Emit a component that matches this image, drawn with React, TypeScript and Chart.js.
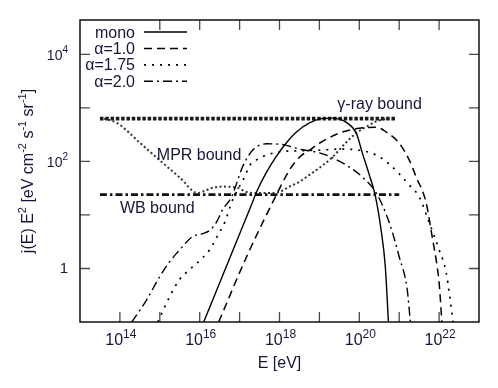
import React, { useEffect, useRef } from "react";
import { Chart, registerables } from "chart.js";

Chart.register(...registerables);

// ---- data (log10 values) ----
const monoLogE = [16.1, 16.8, 17.275, 17.45, 17.675, 17.925, 18.175, 18.425, 18.75, 19.05, 19.325, 19.5, 19.675, 19.925, 20.075, 20.25, 20.4, 20.55, 20.65, 20.73];
const monoLogJ = [-1.0, 0.28, 1.15, 1.47, 1.8, 2.1, 2.35, 2.55, 2.72, 2.8, 2.81, 2.79, 2.73, 2.53, 2.16, 1.75, 1.36, 0.7, 0.05, -1.0];

const a10LogE = [16.475, 17.2, 17.925, 18.25, 18.5, 18.75, 19.0, 19.5, 20.0, 20.425, 20.675, 21.0, 21.25, 21.425, 21.675, 21.825, 21.95, 22.0, 22.07];
const a10LogJ = [-1.0, 0.26, 1.38, 1.84, 2.08, 2.21, 2.34, 2.53, 2.62, 2.64, 2.55, 2.34, 2.03, 1.71, 1.23, 0.6, 0.04, -0.26, -1.0];

const a175LogE = [14.95, 15.25, 15.5, 15.75, 16.0, 16.25, 16.425, 16.625, 16.825, 17.125, 17.25, 17.425, 17.675, 18.0, 18.5, 19.0, 19.5, 20.0, 20.425, 20.75, 21.0, 21.25, 21.5, 21.75, 22.0, 22.175, 22.35];
const a175LogJ = [-1.0, -0.52, -0.2, -0.02, 0.15, 0.35, 0.58, 0.86, 1.28, 1.71, 1.92, 2.03, 2.12, 2.18, 2.2, 2.21, 2.23, 2.21, 2.12, 1.95, 1.77, 1.56, 1.34, 0.86, 0.35, -0.07, -1.0];

const a20LogE = [14.3, 14.675, 15.0, 15.25, 15.5, 15.825, 16.075, 16.25, 16.425, 16.575, 16.8, 17.075, 17.325, 17.675, 18.125, 18.5, 19.0, 19.325, 19.675, 20.075, 20.425, 20.75, 21.0, 21.2, 21.28];
const a20LogJ = [-1.0, -0.58, -0.15, 0.13, 0.35, 0.6, 0.65, 0.71, 0.87, 1.1, 1.34, 1.9, 2.21, 2.33, 2.31, 2.23, 2.16, 2.07, 1.93, 1.71, 1.41, 0.86, 0.22, -0.39, -1.0];

const mprLogE = [13.6, 13.925, 14.5, 15.0, 15.5, 15.95, 16.125, 16.325, 16.575, 16.925, 17.175, 17.425, 17.75, 18.0, 18.25, 18.5, 18.75, 19.0, 19.325, 19.675, 19.925, 20.25, 20.425, 20.7];
const mprLogJ = [2.8, 2.72, 2.35, 2.02, 1.7, 1.41, 1.45, 1.51, 1.53, 1.51, 1.43, 1.41, 1.41, 1.43, 1.53, 1.62, 1.75, 1.88, 2.08, 2.36, 2.53, 2.68, 2.75, 2.8];

const gammaLogE = [13.5, 20.925];
const gammaLogJ = [2.8, 2.8];

const wbLogE = [13.5, 21.0];
const wbLogJ = [1.38, 1.38];

const legendLabels = ["mono", "\u03b1=1.0", "\u03b1=1.75", "\u03b1=2.0"];
const xTickExps = [14, 15, 16, 17, 18, 19, 20, 21, 22];
const xLabelExps = [14, 16, 18, 20, 22];
const yTickExps = [0, 1, 2, 3, 4];
const yLabelExps = [0, 2, 4];

const X_MIN = 1e13;
const X_MAX = 1e23;
const Y_MIN = 0.1;
const Y_MAX = 4.4e4;

const FONT = "'Liberation Sans', Arial, Helvetica, sans-serif";
const TXT = "#16163c";

const toPts = (le: number[], lj: number[]) => le.map((e, i) => ({ x: Math.pow(10, e), y: Math.pow(10, lj[i]) }));

type Part = [string, boolean];

function drawRich(ctx: CanvasRenderingContext2D, parts: Part[], x: number, y: number, align: "left" | "center" | "right", base: number, sup: number, rise: number) {
  const widths = parts.map(([t, s]) => {
    ctx.font = `${s ? sup : base}px ${FONT}`;
    return ctx.measureText(t).width;
  });
  const total = widths.reduce((a, b) => a + b, 0);
  let cx = align === "left" ? x : align === "center" ? x - total / 2 : x - total;
  ctx.textAlign = "left";
  ctx.textBaseline = "alphabetic";
  parts.forEach(([t, s], i) => {
    ctx.font = `${s ? sup : base}px ${FONT}`;
    ctx.fillText(t, cx, s ? y - rise : y);
    cx += widths[i];
  });
}

const decorPlugin = {
  id: "decor",
  afterDraw(chart: any) {
    const ctx: CanvasRenderingContext2D = chart.ctx;
    const { left, right, top, bottom } = chart.chartArea;
    const xs = chart.scales.x;
    const ys = chart.scales.y;
    ctx.save();
    ctx.setLineDash([]);
    // ticks
    ctx.strokeStyle = "#4a4a4a";
    ctx.lineWidth = 1.3;
    ctx.beginPath();
    for (const e of xTickExps) {
      const px = xs.getPixelForValue(Math.pow(10, e));
      ctx.moveTo(px, bottom);
      ctx.lineTo(px, bottom - 10);
      if (e !== 14) {
        ctx.moveTo(px, top);
        ctx.lineTo(px, top + 10);
      }
    }
    for (const e of yTickExps) {
      const py = ys.getPixelForValue(Math.pow(10, e));
      ctx.moveTo(left, py);
      ctx.lineTo(left + 10, py);
      ctx.moveTo(right, py);
      ctx.lineTo(right - 10, py);
    }
    ctx.stroke();
    // border
    ctx.strokeStyle = "#000";
    ctx.lineWidth = 1.4;
    ctx.strokeRect(left, top, right - left, bottom - top);

    ctx.fillStyle = TXT;
    // x labels
    for (const e of xLabelExps) {
      const px = xs.getPixelForValue(Math.pow(10, e));
      drawRich(ctx, [["10", false], [String(e), true]], px + 1, bottom + 23, "center", 16, 12, 7);
    }
    // y labels
    for (const e of yLabelExps) {
      const py = ys.getPixelForValue(Math.pow(10, e));
      if (e === 0) drawRich(ctx, [["1", false]], left - 12, py + 5, "right", 15, 10, 6);
      else drawRich(ctx, [["10", false], [String(e), true]], left - 12, py + 6, "right", 14, 10, 7);
    }
    // x title
    drawRich(ctx, [["E [eV]", false]], (left + right) / 2, bottom + 46, "center", 16, 12, 6);
    // y title
    ctx.save();
    ctx.translate(33, (top + bottom) / 2);
    ctx.rotate(-Math.PI / 2);
    drawRich(
      ctx,
      [["j(E) E", false], ["2", true], [" [eV cm", false], ["-2", true], [" s", false], ["-1", true], [" sr", false], ["-1", true], ["]", false]],
      0,
      0,
      "center",
      16,
      11,
      7
    );
    ctx.restore();

    // annotations anchored in data coordinates
    const ann: [string, number, number][] = [
      ["\u03b3-ray bound", 19.45, 2.98],
      ["MPR bound", 14.925, 2.02],
      ["WB bound", 14.0, 1.04],
    ];
    for (const [t, le, lj] of ann) {
      const px = xs.getPixelForValue(Math.pow(10, le));
      const py = ys.getPixelForValue(Math.pow(10, lj));
      drawRich(ctx, [[t, false]], px, py, "left", 16, 12, 6);
    }

    // legend
    const ds = chart.data.datasets;
    for (let i = 0; i < legendLabels.length; i++) {
      const y = top + 12 + i * 16.4;
      ctx.fillStyle = TXT;
      drawRich(ctx, [[legendLabels[i], false]], left + 55, y + 5.5, "right", 16, 12, 6);
      ctx.strokeStyle = "#000";
      ctx.lineWidth = ds[i].borderWidth;
      ctx.setLineDash(ds[i].borderDash || []);
      ctx.beginPath();
      ctx.moveTo(left + 64, y);
      ctx.lineTo(left + 107, y);
      ctx.stroke();
    }
    ctx.restore();
  },
};

export default function App() {
  const ref = useRef<HTMLCanvasElement | null>(null);
  useEffect(() => {
    if (!ref.current) return;
    const line = (data: any, dash: number[], width: number, color = "#000") => ({
      data,
      borderColor: color,
      borderWidth: width,
      borderDash: dash,
      pointRadius: 0,
      fill: false,
      cubicInterpolationMode: "monotone" as const,
      borderCapStyle: "butt" as const,
    });
    const chart = new Chart(ref.current, {
      type: "line",
      data: {
        datasets: [
          line(toPts(monoLogE, monoLogJ), [], 1.4),
          line(toPts(a10LogE, a10LogJ), [8, 5], 1.5),
          line(toPts(a175LogE, a175LogJ), [2, 6], 1.7),
          line(toPts(a20LogE, a20LogJ), [9, 4, 2, 4], 1.4),
          line(toPts(mprLogE, mprLogJ), [2, 2.5], 2, "#333"),
          line(toPts(gammaLogE, gammaLogJ), [3.5, 1.8], 3.6, "#1a1a1a"),
          line(toPts(wbLogE, wbLogJ), [7, 3, 2.5, 3], 2.6, "#111"),
        ],
      },
      options: {
        animation: false,
        responsive: false,
        parsing: false as any,
        layout: { padding: { top: 20, right: 19, left: 0, bottom: 0 } },
        plugins: { legend: { display: false }, tooltip: { enabled: false } },
        scales: {
          x: {
            type: "logarithmic",
            min: X_MIN,
            max: X_MAX,
            grid: { display: false },
            border: { display: false },
            ticks: { display: false },
            afterFit: (s: any) => {
              s.height = 66;
            },
          },
          y: {
            type: "logarithmic",
            min: Y_MIN,
            max: Y_MAX,
            grid: { display: false },
            border: { display: false },
            ticks: { display: false },
            afterFit: (s: any) => {
              s.width = 80;
            },
          },
        },
      },
      plugins: [decorPlugin],
    });
    return () => chart.destroy();
  }, []);
  return (
    <div style={{ position: "absolute", left: 0, top: 0, width: 498, height: 388, background: "#fff" }}>
      <canvas ref={ref} width={498} height={388} style={{ width: 498, height: 388 }} />
    </div>
  );
}
